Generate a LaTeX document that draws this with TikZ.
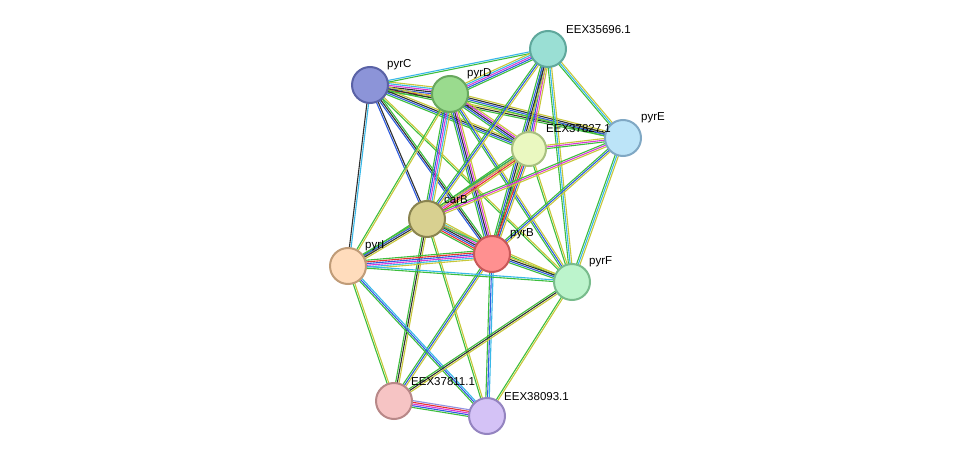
\documentclass[tikz,border=0pt]{standalone}
\usepackage{fontspec}
\setmainfont{Liberation Sans}
\usetikzlibrary{calc}
\definecolor{cg}{HTML}{3DBE3D}
\definecolor{cy}{HTML}{C8C83A}
\definecolor{cb}{HTML}{2E5CE0}
\definecolor{cc}{HTML}{38B8E8}
\definecolor{cm}{HTML}{D838D8}
\definecolor{cr}{HTML}{E83030}
\definecolor{ck}{HTML}{303030}
\definecolor{cp}{HTML}{9090E0}
\definecolor{fC}{HTML}{8C94D8}\definecolor{bC}{HTML}{5A62A6}
\definecolor{fD}{HTML}{9ADB8E}\definecolor{bD}{HTML}{68A85E}
\definecolor{f35}{HTML}{9ADFD4}\definecolor{b35}{HTML}{5FA89C}
\definecolor{f37}{HTML}{EAF8C0}\definecolor{b37}{HTML}{A8C080}
\definecolor{fE}{HTML}{BCE4F8}\definecolor{bE}{HTML}{80A8C4}
\definecolor{fB}{HTML}{D8D090}\definecolor{bB}{HTML}{8A8450}
\definecolor{fpB}{HTML}{FF9090}\definecolor{bpB}{HTML}{C85858}
\definecolor{fI}{HTML}{FFDCBC}\definecolor{bI}{HTML}{C09C78}
\definecolor{fF}{HTML}{BCF4CC}\definecolor{bF}{HTML}{78BC8C}
\definecolor{f81}{HTML}{F6C4C4}\definecolor{b81}{HTML}{B88888}
\definecolor{f93}{HTML}{D4C2F6}\definecolor{b93}{HTML}{9484C0}
\tikzset{prot/.style={circle,minimum size=36pt,inner sep=0pt,line width=2pt},
 lab/.style={font=\fontsize{11.5}{13}\selectfont,anchor=south west,inner sep=1pt}}
\newcommand{\edge}[3]{%
 \foreach \c [count=\i] in {#3} {\xdef\nn{\i}}%
 \foreach \c [count=\i] in {#3} {%
  \pgfmathsetmacro{\o}{(\i-(\nn+1)/2)*1.7}%
  \draw[draw=\c,line width=1.1pt] ($(#1.center)!\o pt!90:(#2.center)$) -- ($(#2.center)!\o pt!-90:(#1.center)$);}}
\begin{document}
\begin{tikzpicture}[x=1pt,y=-1pt]
\useasboundingbox (0,0) rectangle (976,462);
\path
 (370,85) coordinate (pyrC)
 (450,94) coordinate (pyrD)
 (548,49) coordinate (e356)
 (529,149) coordinate (e378)
 (623,138) coordinate (pyrE)
 (427,219) coordinate (carB)
 (492,254) coordinate (pyrB)
 (348,266) coordinate (pyrI)
 (572,282) coordinate (pyrF)
 (394,401) coordinate (e3781)
 (487,416) coordinate (e3809);
\edge{pyrC}{pyrD}{cg,cr,cb,ck,cm,cc,cy}
\edge{pyrC}{e356}{cg,cc}
\edge{pyrC}{e378}{cg,cb,ck,cy}
\edge{pyrC}{pyrE}{cg,ck,cy}
\edge{pyrC}{carB}{cb,ck}
\edge{pyrC}{pyrB}{cb,ck,cg}
\edge{pyrC}{pyrI}{ck,cc}
\edge{pyrC}{pyrF}{cg,cy}
\edge{pyrD}{e356}{cg,cb,cm,cc,cy}
\edge{pyrD}{e378}{cg,cb,ck,cm,cy}
\edge{pyrD}{pyrE}{cg,cb,ck,cy}
\edge{pyrD}{carB}{cg,cb,cm,cc,cy}
\edge{pyrD}{pyrB}{cg,cb,ck,cm,cy}
\edge{pyrD}{pyrF}{cg,cb,cy}
\edge{pyrD}{pyrI}{cg,cy}
\edge{e356}{e378}{cg,cb,cm,cy}
\edge{e356}{pyrE}{cg,cc,cy}
\edge{e356}{carB}{cg,cb,cy}
\edge{e356}{pyrB}{cg,cb,ck,cy}
\edge{e356}{pyrF}{cg,cc,cy}
\edge{e378}{pyrE}{cg,cm,cy}
\edge{e378}{carB}{cg,cb,cm,cr,cy}
\edge{e378}{pyrB}{cg,cr,cb,cy}
\edge{e378}{pyrF}{cg,cy}
\edge{e378}{pyrI}{cg,cy}
\edge{pyrE}{carB}{cg,cm,cy}
\edge{pyrE}{pyrB}{cg,cb,cy}
\edge{pyrE}{pyrF}{cg,cc,cy}
\edge{carB}{pyrB}{cg,cr,cb,ck,cm,cc,cy}
\edge{carB}{pyrI}{cg,cb,ck,cy}
\edge{carB}{pyrF}{cg,cy}
\edge{carB}{e3781}{cg,ck,cy}
\edge{carB}{e3809}{cg,cy}
\edge{pyrB}{pyrI}{cg,cr,cb,cm,cc,cy}
\edge{pyrB}{pyrF}{cg,cb,ck,cy}
\edge{pyrB}{e3781}{cg,cb,cy}
\edge{pyrB}{e3809}{cg,cb,cc}
\edge{pyrI}{pyrF}{cg,cc}
\edge{pyrI}{e3781}{cg,cy}
\edge{pyrI}{e3809}{cg,cb,cc}
\edge{pyrF}{e3781}{cg,ck,cy}
\edge{pyrF}{e3809}{cg,cy}
\edge{e3781}{e3809}{cg,cb,cm,cr,cp}
\node[prot,fill=fC,draw=bC] (npyrC) at (pyrC) {};
\node[prot,fill=fD,draw=bD] (npyrD) at (pyrD) {};
\node[prot,fill=f35,draw=b35] (ne356) at (e356) {};
\node[prot,fill=f37,draw=b37,minimum size=34pt] (ne378) at (e378) {};
\node[prot,fill=fE,draw=bE] (npyrE) at (pyrE) {};
\node[prot,fill=fB,draw=bB] (ncarB) at (carB) {};
\node[prot,fill=fpB,draw=bpB] (npyrB) at (pyrB) {};
\node[prot,fill=fI,draw=bI] (npyrI) at (pyrI) {};
\node[prot,fill=fF,draw=bF] (npyrF) at (pyrF) {};
\node[prot,fill=f81,draw=b81] (ne3781) at (e3781) {};
\node[prot,fill=f93,draw=b93] (ne3809) at (e3809) {};
\node[lab] (l1) at (386,71) {pyrC};
\node[lab] (l2) at (466,80) {pyrD};
\node[lab] (l3) at (565,35) {EEX35696.1};
\node[lab] (l4) at (545,134) {EEX37827.1};
\node[lab] (l5) at (640,124) {pyrE};
\node[lab] (l6) at (443,205) {carB};
\node[lab] (l7) at (509,240) {pyrB};
\node[lab] (l8) at (364,252) {pyrI};
\node[lab] (l9) at (588,268) {pyrF};
\node[lab] (l10) at (410,387) {EEX37811.1};
\node[lab] (l11) at (503,402) {EEX38093.1};
\end{tikzpicture}
\end{document}
